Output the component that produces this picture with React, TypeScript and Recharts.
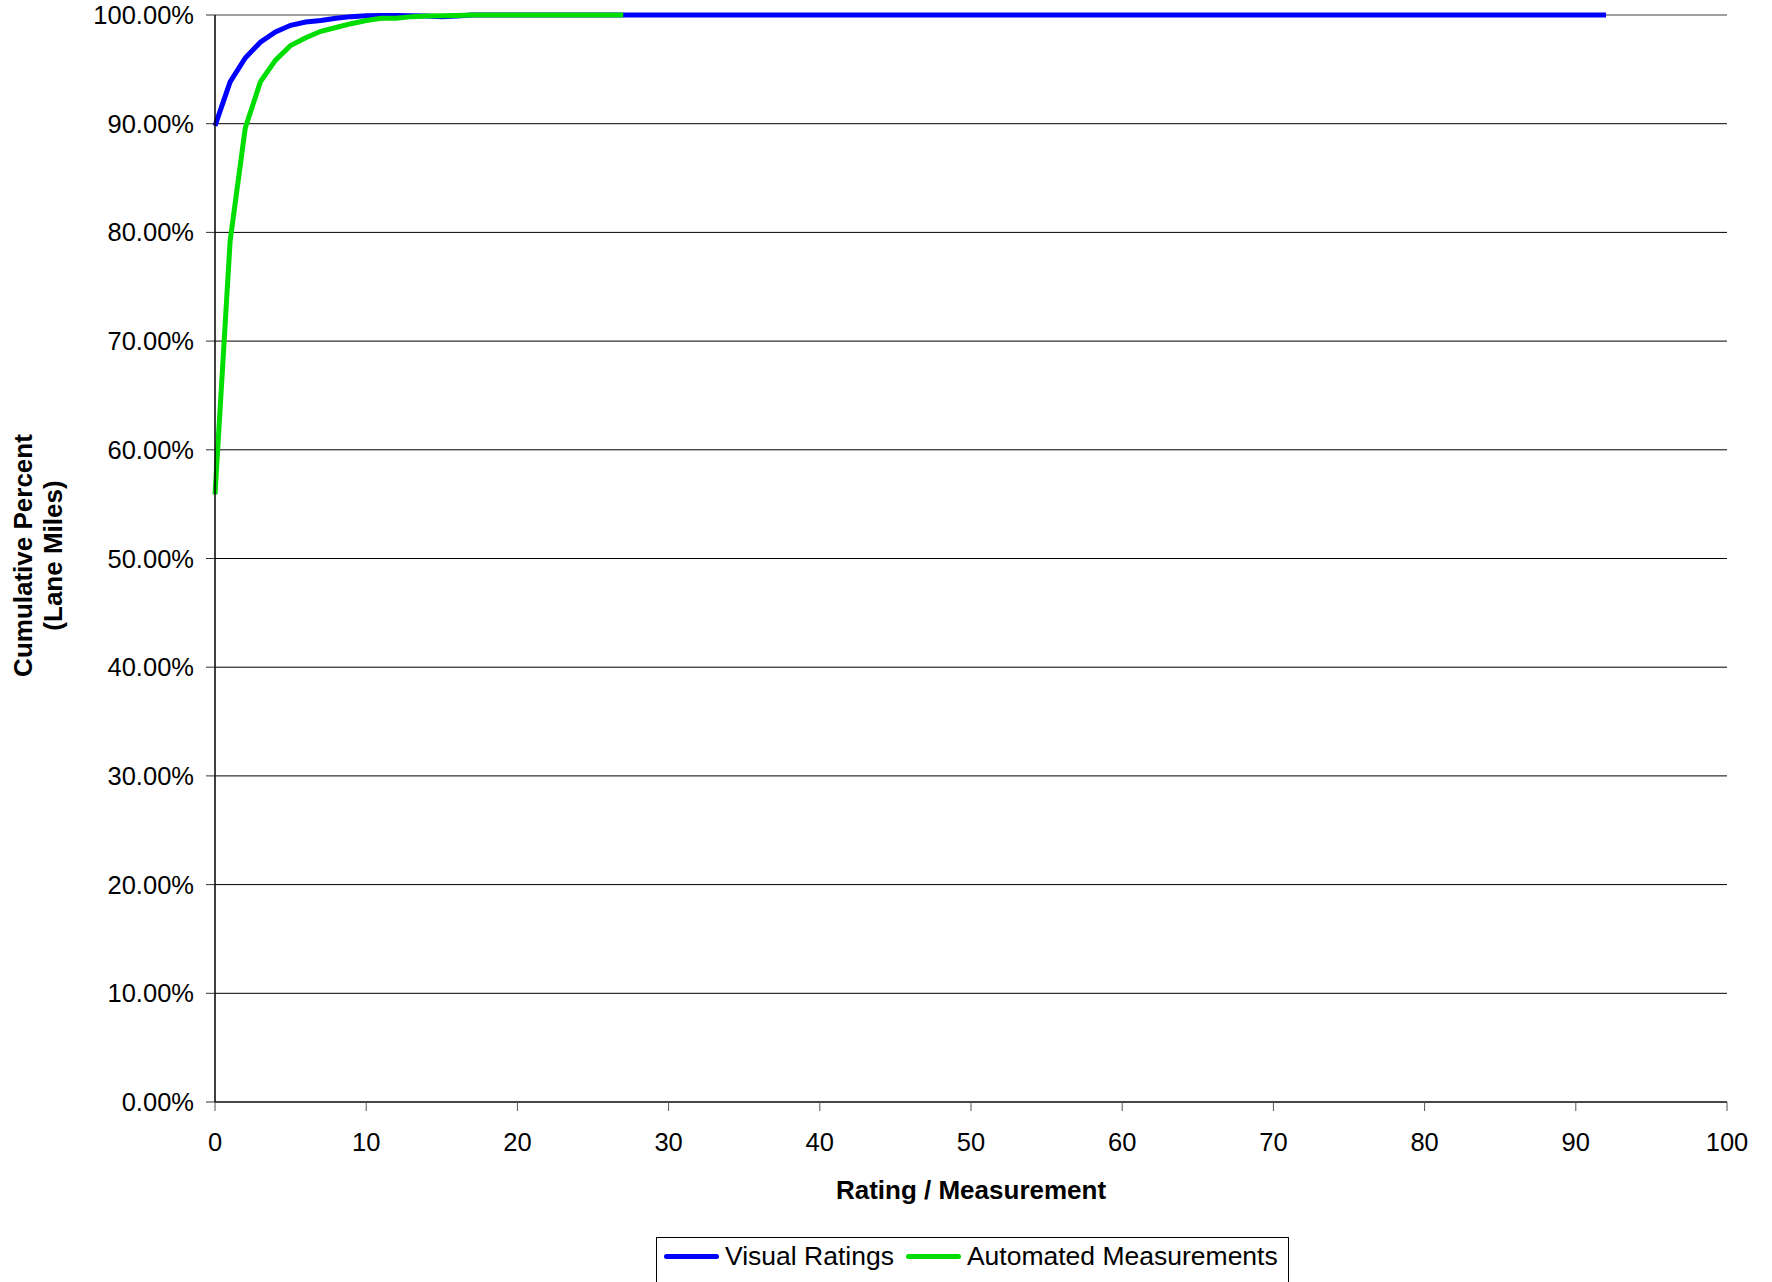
import React from "react";
import { LineChart, Line, XAxis, YAxis, CartesianGrid, Legend, ReferenceLine } from "recharts";

const visualX = [0, 1, 2, 3, 4, 5, 6, 7, 8, 9, 10, 11, 12, 13, 14, 15, 16, 17, 92];
const visualY = [89.8, 93.85, 96.05, 97.5, 98.45, 99.05, 99.35, 99.5, 99.7, 99.85, 99.92, 99.95, 99.95, 99.93, 99.9, 99.85, 99.9, 100, 100];

const autoX = [0, 1, 2, 3, 4, 5, 6, 7, 8, 9, 10, 11, 12, 13, 14, 15, 16, 17, 27];
const autoY = [55.9, 79.2, 89.6, 93.85, 95.85, 97.2, 97.9, 98.5, 98.85, 99.2, 99.5, 99.7, 99.7, 99.85, 99.9, 99.92, 99.95, 100, 100];

const xTicks = [0, 10, 20, 30, 40, 50, 60, 70, 80, 90, 100];
const yTicks = [0, 10, 20, 30, 40, 50, 60, 70, 80, 90, 100];

const seriesNames = ["Visual Ratings", "Automated Measurements"];
const seriesColors = ["#0000FF", "#00DD00"];

const visualData = visualX.map((x, i) => ({ x, y: visualY[i] }));
const autoData = autoX.map((x, i) => ({ x, y: autoY[i] }));

const FONT = "'Liberation Sans', Arial, sans-serif";

const LegendBox = (props: any) => {
  const payload = [...(props.payload || [])].sort(
    (a: any, b: any) => seriesNames.indexOf(a.value) - seriesNames.indexOf(b.value)
  );
  return (
    <div
      style={{
        border: "1px solid #000",
        display: "inline-flex",
        alignItems: "center",
        height: 50,
        paddingLeft: 7,
        paddingRight: 10,
        boxSizing: "border-box",
        fontFamily: FONT,
        fontSize: 26.5,
        color: "#000",
        background: "#fff",
        whiteSpace: "nowrap",
      }}
    >
      {payload.map((p: any, i: number) => (
        <span key={i} style={{ display: "inline-flex", alignItems: "center", marginRight: i === 0 ? 12 : 0, marginTop: -12 }}>
          <span style={{ display: "inline-block", width: 55, height: 5, borderRadius: 3, background: p.color, marginRight: 6 }} />
          <span>{p.value}</span>
        </span>
      ))}
    </div>
  );
};

const YTitle = (props: any) => {
  const vb = props.viewBox || { x: 0, y: 0, width: 0, height: 0 };
  const cy = vb.y + vb.height / 2 - 3;
  return (
    <g>
      <text x={32} y={cy} transform={`rotate(-90, 32, ${cy})`} textAnchor="middle" fontFamily={FONT} fontWeight="bold" fontSize={26} fill="#000">
        Cumulative Percent
      </text>
      <text x={62} y={cy} transform={`rotate(-90, 62, ${cy})`} textAnchor="middle" fontFamily={FONT} fontWeight="bold" fontSize={26} fill="#000">
        (Lane Miles)
      </text>
    </g>
  );
};

const XTitle = (props: any) => {
  const vb = props.viewBox || { x: 0, y: 0, width: 0, height: 0 };
  return (
    <text x={vb.x + vb.width / 2} y={1199} textAnchor="middle" fontFamily={FONT} fontWeight="bold" fontSize={26} fill="#000">
      Rating / Measurement
    </text>
  );
};

export default function App() {
  return (
    <div style={{ position: "absolute", left: 0, top: 0, width: 1772, height: 1282, background: "#fff" }}>
      <LineChart width={1772} height={1282} margin={{ top: 15, right: 45, left: 95, bottom: 70 }}>
        <CartesianGrid horizontal={true} vertical={false} stroke="#000" strokeWidth={1} />
        <XAxis
          type="number"
          dataKey="x"
          domain={[0, 100]}
          ticks={xTicks}
          allowDuplicatedCategory={false}
          axisLine={{ stroke: "#333", strokeWidth: 1.5 }}
          tickLine={{ stroke: "#555" }}
          tickSize={9}
          tickMargin={22}
          height={60}
          tick={{ fontFamily: FONT, fontSize: 25.5, fill: "#000" }}
          label={{ content: <XTitle /> }}
        />
        <YAxis
          type="number"
          domain={[0, 100]}
          ticks={yTicks}
          width={120}
          axisLine={{ stroke: "#000", strokeWidth: 1.5 }}
          tickLine={{ stroke: "#333" }}
          tickSize={9}
          tickMargin={12}
          tickFormatter={(v: number) => v.toFixed(2) + "%"}
          tick={{ fontFamily: FONT, fontSize: 25.5, fill: "#000" }}
          label={{ content: <YTitle /> }}
        />
        <YAxis
          yAxisId="right"
          orientation="right"
          type="number"
          domain={[0, 100]}
          width={0}
          tick={false}
          tickLine={false}
          axisLine={{ stroke: "#888", strokeWidth: 2 }}
        />
        <ReferenceLine y={100} stroke="#a0a0a0" strokeWidth={2} />
        <Legend
          verticalAlign="bottom"
          content={<LegendBox />}
          wrapperStyle={{ position: "absolute", left: 656, top: 1237, width: "auto", height: 50 }}
        />
        <Line
          data={visualData}
          dataKey="y"
          name={seriesNames[0]}
          type="linear"
          stroke={seriesColors[0]}
          strokeWidth={5}
          dot={false}
          activeDot={false}
          isAnimationActive={false}
        />
        <Line
          data={autoData}
          dataKey="y"
          name={seriesNames[1]}
          type="linear"
          stroke={seriesColors[1]}
          strokeWidth={5}
          dot={false}
          activeDot={false}
          isAnimationActive={false}
        />
      </LineChart>
    </div>
  );
}
